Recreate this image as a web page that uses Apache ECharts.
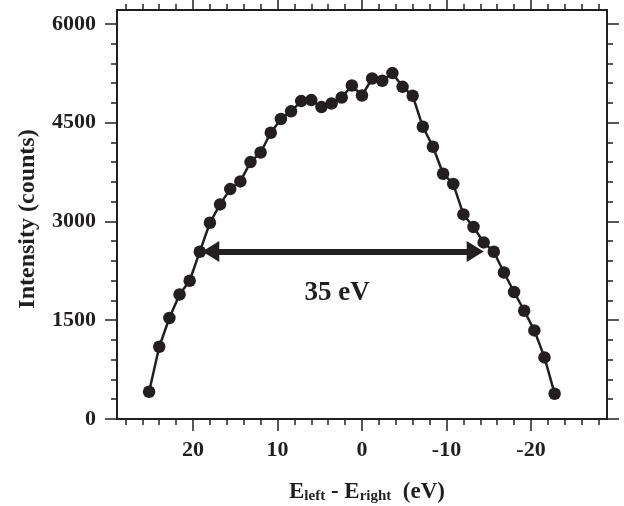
<!DOCTYPE html>
<html>
<head>
<meta charset="utf-8">
<script src="https://cdn.jsdelivr.net/npm/echarts@6/dist/echarts.min.js"></script>
<style>
  html, body { margin: 0; padding: 0; background: #ffffff; }
  #chart { width: 624px; height: 506px; }
</style>
</head>
<body>
<div id="chart"></div>
<script>
// ---- data ----
const energyDiff = [25.2, 24.0, 22.8, 21.6, 20.4, 19.2, 18.0, 16.8, 15.6, 14.4, 13.2,
  12.0, 10.8, 9.6, 8.4, 7.2, 6.0, 4.8, 3.6, 2.4, 1.2, 0.0, -1.2, -2.4, -3.6, -4.8,
  -6.0, -7.2, -8.4, -9.6, -10.8, -12.0, -13.2, -14.4, -15.6, -16.8, -18.0, -19.2,
  -20.4, -21.6, -22.8];
const intensity = [414, 1097, 1533, 1891, 2099, 2540, 2980, 3258, 3491, 3607, 3901,
  4047, 4346, 4555, 4671, 4827, 4842, 4736, 4791, 4882, 5064, 4912, 5170, 5135,
  5252, 5044, 4908, 4437, 4134, 3724, 3569, 3106, 2915, 2681, 2540, 2225, 1928,
  1644, 1345, 935, 384];
const xMajorTicks = [20, 10, 0, -10, -20];
const xMinorTicks = [28, 26, 24, 22, 18, 16, 14, 12, 8, 6, 4, 2, -2, -4, -6, -8,
  -12, -14, -16, -18, -22, -24, -26, -28];
const yMajorTicks = [0, 1500, 3000, 4500, 6000];
const yMinorTicks = [300, 600, 900, 1200, 1800, 2100, 2400, 2700, 3300, 3600, 3900,
  4200, 4800, 5100, 5400, 5700];
// FWHM arrow (level, left/right shaft ends) and its label
const fwhmLevel = 2545;
const fwhmEnds = [17.9, -13.4];
const fwhmLabel = '35 eV';
const fwhmLabelAt = [2.95, 1915];

const INK = '#231f20';
const FONT = 'Liberation Serif';

const chart = echarts.init(document.getElementById('chart'));

function plain(v) { return String(v); }

function xAxisDef(position, ticks, len, withLabels, withLine) {
  return {
    type: 'value', position: position, inverse: true, min: -29, max: 29,
    axisLine: { show: withLine, onZero: false, lineStyle: { color: INK, width: 2 } },
    axisTick: { show: true, customValues: ticks, length: len, lineStyle: { color: INK, width: 1.5 } },
    axisLabel: withLabels ? {
      show: true, customValues: ticks, margin: 20, color: INK, formatter: plain,
      fontFamily: FONT, fontWeight: 'bold', fontSize: 22
    } : { show: false },
    splitLine: { show: false }
  };
}
function yAxisDef(position, ticks, len, withLabels, withLine) {
  return {
    type: 'value', position: position, min: 0, max: 6210,
    axisLine: { show: withLine, onZero: false, lineStyle: { color: INK, width: 2 } },
    axisTick: { show: true, customValues: ticks, length: len, lineStyle: { color: INK, width: 1.5 } },
    axisLabel: withLabels ? {
      show: true, customValues: ticks, margin: 21, color: INK, formatter: plain,
      fontFamily: FONT, fontWeight: 'bold', fontSize: 22
    } : { show: false },
    splitLine: { show: false }
  };
}

const xMain = xAxisDef('bottom', xMajorTicks, 12, true, true);
xMain.name = 'E{sub|left} - E{sub|right}  (eV)';
xMain.nameLocation = 'middle';
xMain.nameGap = 62;
xMain.nameTextStyle = {
  color: INK, fontFamily: FONT, fontWeight: 'bold', fontSize: 23,
  padding: [0, 0, 0, 10],
  rich: {
    sub: { color: INK, fontFamily: FONT, fontWeight: 'bold', fontSize: 15,
           lineHeight: 15, verticalAlign: 'bottom', padding: [14, 0, 0, 0] }
  }
};

const yMain = yAxisDef('left', yMajorTicks, 12, true, true);
yMain.name = 'Intensity (counts)';
yMain.nameLocation = 'middle';
yMain.nameGap = 77;
yMain.nameTextStyle = { color: INK, fontFamily: FONT, fontWeight: 'bold', fontSize: 24,
  padding: [0, 9, 0, 0] };

const points = energyDiff.map((e, i) => [e, intensity[i]]);

const option = {
  animation: false,
  backgroundColor: '#ffffff',
  grid: { left: 117, right: 17, top: 10, bottom: 87, containLabel: false,
          outerBoundsMode: 'none' },
  xAxis: [
    xMain,
    xAxisDef('bottom', xMinorTicks, 6, false, false),
    xAxisDef('top', xMajorTicks, 12, false, true),
    xAxisDef('top', xMinorTicks, 6, false, false)
  ],
  yAxis: [
    yMain,
    yAxisDef('left', yMinorTicks, 6, false, false),
    yAxisDef('right', yMajorTicks, 12, false, true),
    yAxisDef('right', yMinorTicks, 6, false, false)
  ],
  series: [
    {
      type: 'line', xAxisIndex: 0, yAxisIndex: 0, data: points,
      symbol: 'circle', symbolSize: 12.5, silent: true,
      lineStyle: { color: INK, width: 2.5 },
      itemStyle: { color: INK, opacity: 1 },
      markLine: {
        silent: true, animation: false,
        symbol: ['triangle', 'triangle'], symbolSize: [21, 17],
        lineStyle: { color: INK, width: 6, type: 'solid', opacity: 1 },
        label: { show: false },
        data: [[{ coord: [fwhmEnds[0], fwhmLevel] }, { coord: [fwhmEnds[1], fwhmLevel] }]]
      }
    },
    {
      type: 'scatter', xAxisIndex: 0, yAxisIndex: 0, silent: true,
      data: [fwhmLabelAt], symbolSize: 0,
      itemStyle: { opacity: 1, color: INK },
      label: {
        show: true, position: 'inside', formatter: fwhmLabel, color: INK, opacity: 1,
        fontFamily: FONT, fontWeight: 'bold', fontSize: 27
      }
    }
  ]
};
chart.setOption(option);
</script>
</body>
</html>
